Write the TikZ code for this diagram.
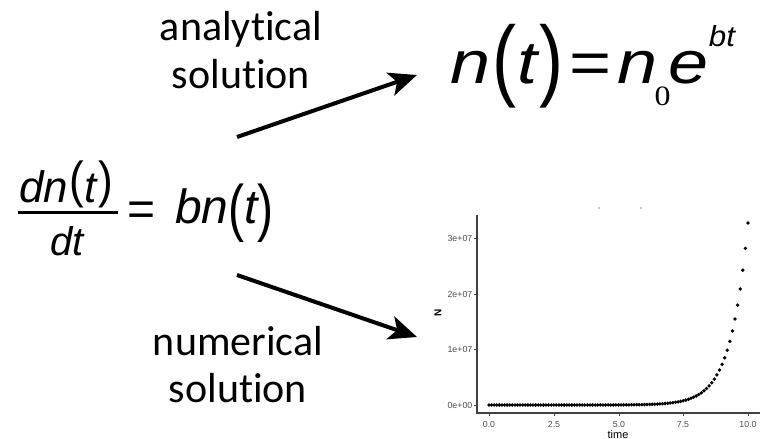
\documentclass[tikz,border=0pt]{standalone}
\usepackage{fontspec}
\usepackage{graphicx}
\setmainfont{Carlito}[Ligatures=NoCommon]
\newfontfamily\arialf{Liberation Sans}
\newfontfamily\timesf{Liberation Serif}
\usetikzlibrary{arrows.meta}
\newcommand\tallp[3]{\raisebox{#2pt}{\scalebox{1}[#1]{\upshape #3}}}
\newcommand\gl[3]{\rlap{\kern#1pt\raisebox{#2pt}{#3}}}
\tikzset{
  lbl/.style={anchor=base,inner sep=0pt,font=\fontsize{42}{46}\selectfont},
  eqn/.style={anchor=base west,inner sep=0pt},
  conn/.style={line width=4pt,-{Stealth[length=28pt,width=24pt,inset=7pt]}},
  axisline/.style={line width=1.1pt,draw=black!75},
  ticklbl/.style={inner sep=0pt,text=black!70,font=\arialf\fontsize{8.8}{9}\selectfont},
  dot/.style={fill=black}
}
\begin{document}
\begin{tikzpicture}[x=1pt,y=-1pt]
\useasboundingbox (0,0) rectangle (769,439);
% labels
\node[lbl] (an) at (241,40) {analytical};
\node[lbl] (as) at (241,88) {solution};
\node[lbl] (nu) at (238,355) {numerical};
\node[lbl] (ns) at (238,402) {solution};
% left equation
\node[eqn] (eqL) at (0,223) {\arialf\itshape
 \gl{19}{21}{\fontsize{44}{44}\selectfont dn\kern1pt\tallp{1.15}{5}{(}\kern1pt t\kern1.5pt\tallp{1.15}{5}{)}}%
 \gl{18}{9.5}{\rule{100pt}{3pt}}%
 \gl{50}{-32}{\fontsize{40}{40}\selectfont dt}%
 \gl{127}{-2}{\fontsize{48}{48}\selectfont\upshape =}%
 \gl{175}{0}{\fontsize{48}{48}\selectfont bn\tallp{1.31}{-6}{(}t\tallp{1.31}{-6}{)}}%
 \phantom{x}};
% right equation
\node[eqn] (eqR) at (450,83) {\scalebox{1.2}[1]{\arialf\itshape\fontsize{60}{60}\selectfont
 n\kern2pt\tallp{1.5}{-6}{(}\kern1pt t\kern1pt\tallp{1.5}{-6}{)}\kern5pt{\upshape=}\kern5pt n\kern-2pt\raisebox{-22pt}{\scalebox{0.95}[1]{\timesf\upshape\fontsize{28}{28}\selectfont 0}}\kern-1.5pt e\raisebox{37pt}{\scalebox{0.9}[1]{\fontsize{29}{29}\selectfont bt}}}};
% arrows
\coordinate (a1s) at (237,137);
\coordinate (a1e) at (417,75);
\coordinate (a2s) at (237,275);
\coordinate (a2e) at (417,337);
\draw[conn] (a1s) -- (a1e);
\draw[conn] (a2s) -- (a2e);
% plot
\coordinate (O) at (477,413);
\coordinate (Ytop) at (477,215);
\coordinate (Xend) at (760,413);
\draw[axisline] (Ytop) -- (O) -- (Xend);
\foreach \v/\yy in {0e+00/405,1e+07/349,2e+07/294,3e+07/238}{
  \draw[axisline,line width=0.8pt] (474,\yy) -- (477,\yy);
  \node[ticklbl,anchor=east] (yl\yy) at (472.5,\yy) {\v};
}
\foreach \v/\xx in {0.0/489,2.5/554,5.0/619,7.5/683,10.0/748}{
  \draw[axisline,line width=0.8pt] (\xx,413) -- (\xx,416);
  \node[ticklbl,anchor=base] (xl\xx) at (\xx,427) {\v};
}
\node[inner sep=0pt,anchor=base,font=\arialf\fontsize{11}{11}\selectfont] (tl) at (618,438) {time};
\node[inner sep=0pt,rotate=90,font=\arialf\bfseries\fontsize{10}{10}\selectfont] (Nl) at (438,313) {N};
\foreach \i in {0,...,100}{
  \pgfmathsetmacro\tv{\i/10}
  \pgfmathsetmacro\yv{405-exp(1.5*\tv-9.796)}
  \fill[dot] (489+25.9*\tv,\yv) circle (1.9pt);
}
\fill (599,208) circle (0.7pt);
\fill (641,208) circle (0.7pt);
\end{tikzpicture}
\end{document}
